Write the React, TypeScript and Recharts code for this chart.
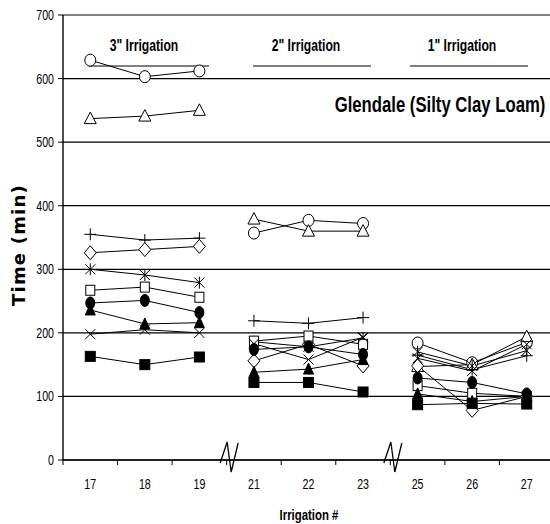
import React from "react";
import { CartesianGrid, ComposedChart, Customized, Line, XAxis, YAxis } from "recharts";

// irrigation numbers, three groups of three
const irrigations = ["17", "18", "19", "21", "22", "23", "25", "26", "27"];
const groupLabels = ['3" Irrigation', '2" Irrigation', '1" Irrigation'];
const yTicks = [0, 100, 200, 300, 400, 500, 600, 700];

// infiltration time (min), one value per irrigation
const circleOpen = [629, 603, 612, 357, 377, 372, 184, 153, 185];
const triangleOpen = [537, 541, 550, 379, 360, 360, 147, 150, 194];
const plusMark = [355, 346, 349, 219, 215, 224, 165, 142, 164];
const diamondOpen = [326, 331, 336, 156, 182, 148, 148, 78, 100];
const asterisk = [300, 291, 279, 186, 178, 192, 170, 148, 172];
const squareOpen = [267, 272, 256, 187, 195, 182, 117, 105, 100];
const circleFilled = [247, 251, 232, 174, 178, 166, 129, 122, 104];
const triangleFilled = [236, 214, 216, 138, 143, 158, 104, 92, 100];
const xMark = [198, 205, 200, 183, 158, 193, 160, 140, 182];
const squareFilled = [163, 150, 162, 122, 122, 107, 87, 89, 88];

const series = [
  { id: "circleOpen", values: circleOpen },
  { id: "triangleOpen", values: triangleOpen },
  { id: "plusMark", values: plusMark },
  { id: "diamondOpen", values: diamondOpen },
  { id: "asterisk", values: asterisk },
  { id: "squareOpen", values: squareOpen },
  { id: "xMark", values: xMark },
  { id: "triangleFilled", values: triangleFilled },
  { id: "circleFilled", values: circleFilled },
  { id: "squareFilled", values: squareFilled },
];

// one key per series and group so the lines break between groups
const rows = irrigations.map((name, i) => {
  const row: Record<string, string | number | null> = { name };
  series.forEach((s) => {
    [0, 1, 2].forEach((g) => {
      row[`${s.id}_${g}`] = Math.floor(i / 3) === g ? s.values[i] : null;
    });
  });
  return row;
});

const W = 560;
const H = 524;
const MARGIN = { top: 15, right: 6, left: 0, bottom: 24 };
const Y_WIDTH = 63;
const BAND = (W - MARGIN.left - MARGIN.right - Y_WIDTH) / irrigations.length;

const sans = "'Liberation Sans', Arial, sans-serif";

// Arial squeezed sideways stands in for Arial Narrow
function Narrow({ x, y, size, bold, anchor = "middle", children }: any) {
  return (
    <text
      transform={`translate(${x},${y}) scale(0.76,1)`}
      textAnchor={anchor}
      fontFamily={sans}
      fontWeight={bold ? "bold" : "normal"}
      fontSize={size}
      fill="#000"
    >
      {children}
    </text>
  );
}

function Marker({ shape, cx, cy }: { shape: string; cx: number; cy: number }) {
  const k = { stroke: "#000", strokeWidth: 1 };
  switch (shape) {
    case "circleOpen":
      return <ellipse cx={cx} cy={cy} rx={5.5} ry={6} fill="#fff" {...k} />;
    case "triangleOpen":
      return <polygon points={`${cx},${cy - 6.5} ${cx + 6},${cy + 5} ${cx - 6},${cy + 5}`} fill="#fff" {...k} />;
    case "plusMark":
      return (
        <g {...k}>
          <line x1={cx - 6} y1={cy} x2={cx + 6} y2={cy} />
          <line x1={cx} y1={cy - 6} x2={cx} y2={cy + 6} />
        </g>
      );
    case "diamondOpen":
      return <polygon points={`${cx},${cy - 7} ${cx + 6},${cy} ${cx},${cy + 7} ${cx - 6},${cy}`} fill="#fff" {...k} />;
    case "asterisk":
      return (
        <g {...k}>
          <line x1={cx - 5} y1={cy - 5} x2={cx + 5} y2={cy + 5} />
          <line x1={cx - 5} y1={cy + 5} x2={cx + 5} y2={cy - 5} />
          <line x1={cx} y1={cy - 6} x2={cx} y2={cy + 6} />
        </g>
      );
    case "squareOpen":
      return <rect x={cx - 4.5} y={cy - 5} width={9} height={10} fill="#fff" {...k} />;
    case "circleFilled":
      return <ellipse cx={cx} cy={cy} rx={4.5} ry={6} fill="#000" {...k} />;
    case "triangleFilled":
      return <polygon points={`${cx},${cy - 6} ${cx + 5},${cy + 5} ${cx - 5},${cy + 5}`} fill="#000" {...k} />;
    case "xMark":
      return (
        <g {...k}>
          <line x1={cx - 5} y1={cy - 5} x2={cx + 5} y2={cy + 5} />
          <line x1={cx - 5} y1={cy + 5} x2={cx + 5} y2={cy - 5} />
        </g>
      );
    default:
      return <rect x={cx - 5} y={cy - 5} width={10} height={10} fill="#000" {...k} />;
  }
}

const makeDot = (shape: string) => (props: any) => {
  const { cx, cy, index, value } = props;
  if (cx == null || cy == null || value == null) return <g key={`${shape}-${index}`} />;
  return (
    <g key={`${shape}-${index}`}>
      <Marker shape={shape} cx={cx} cy={cy} />
    </g>
  );
};

// category label with the tick between bands, and the axis break marks
function XTick(props: any) {
  const { x, y, payload, index } = props;
  const bx = x - BAND / 2;
  return (
    <g>
      <line x1={bx} y1={y} x2={bx} y2={y + 5} stroke="#000" />
      {(index === 3 || index === 6) && (
        <polyline
          points={`${bx - 6.5},${y + 3} ${bx + 0.5},${y - 18} ${bx + 4.5},${y + 12} ${bx + 11.5},${y - 17}`}
          fill="none"
          stroke="#000"
          strokeWidth={1.3}
        />
      )}
      <Narrow x={x} y={y + 29} size={14}>
        {payload.value}
      </Narrow>
    </g>
  );
}

function YTick(props: any) {
  const { x, y, payload } = props;
  return (
    <Narrow x={x} y={y + 5} size={14} anchor="end">
      {payload.value}
    </Narrow>
  );
}

function Annotations() {
  const centers = [144, 306, 462];
  const rules = [
    [89, 209],
    [253, 371],
    [410, 528],
  ];
  return (
    <g>
      {groupLabels.map((t, i) => (
        <Narrow key={t} x={centers[i]} y={51} size={16} bold>
          {t}
        </Narrow>
      ))}
      {rules.map(([a, b]) => (
        <line key={a} x1={a} y1={66} x2={b} y2={66} stroke="#000" strokeWidth={1.2} />
      ))}
      <Narrow x={440} y={112} size={22} bold>
        Glendale (Silty Clay Loam)
      </Narrow>
      <Narrow x={309} y={520} size={15} bold>
        Irrigation #
      </Narrow>
      <text
        x={0}
        y={0}
        transform="translate(25,245) rotate(-90)"
        textAnchor="middle"
        fontFamily="'DejaVu Sans', sans-serif"
        fontWeight="bold"
        fontSize={18}
        letterSpacing={1.2}
        fill="#000"
      >
        Time (min)
      </text>
    </g>
  );
}

export default function App() {
  return (
    <div style={{ position: "fixed", left: 0, top: 0, width: 550, height: 524, overflow: "hidden", background: "#fff" }}>
      <ComposedChart width={W} height={H} data={rows} margin={MARGIN}>
        <CartesianGrid vertical={false} stroke="#000" strokeWidth={1.2} />
        <XAxis
          dataKey="name"
          scale="band"
          height={40}
          interval={0}
          tickSize={0}
          tickMargin={0}
          tick={<XTick />}
          axisLine={{ stroke: "#000", strokeWidth: 1.6 }}
        />
        <YAxis
          width={Y_WIDTH}
          domain={[0, 700]}
          ticks={yTicks}
          interval={0}
          tickSize={5}
          tickMargin={4}
          axisLine={{ stroke: "#000", strokeWidth: 1.4 }}
          tickLine={{ stroke: "#000" }}
          tick={<YTick />}
        />
        {series.flatMap((s) =>
          [0, 1, 2].map((g) => (
            <Line
              key={`${s.id}_${g}`}
              dataKey={`${s.id}_${g}`}
              type="linear"
              stroke="#000"
              strokeWidth={1}
              dot={makeDot(s.id)}
              activeDot={false}
              legendType="none"
              isAnimationActive={false}
            />
          ))
        )}
        <Customized component={<Annotations />} />
      </ComposedChart>
    </div>
  );
}
